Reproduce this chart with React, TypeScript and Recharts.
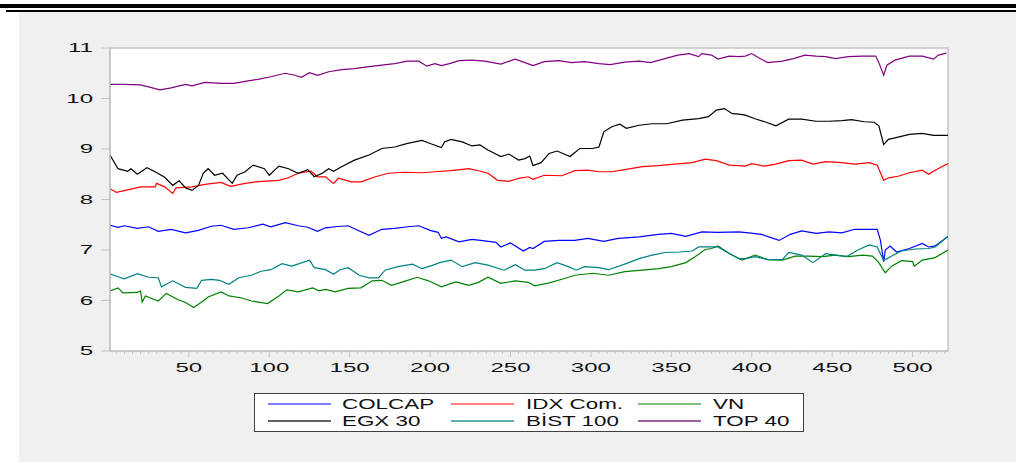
import React from "react";
import { LineChart, Line, XAxis, YAxis, ReferenceArea } from "recharts";

// EViews-style multi-series line graph, observations 1..522 on x.
const W = 1016;
const H = 462;
const FONT = '"Liberation Sans", Arial, sans-serif';
const FRAME = "#c4c4c4";

const X_DOMAIN = [1, 522];
const X_LABELS = [50, 100, 150, 200, 250, 300, 350, 400, 450, 500];
const X_MINOR_STEP = 5;
const Y_TICKS = [5, 6, 7, 8, 9, 10, 11];

const COLCAP = [
  [1, 7.49], [6, 7.45], [10, 7.48], [18, 7.43], [25, 7.46], [31, 7.37], [39, 7.41], [48, 7.34],
  [56, 7.39], [64, 7.47], [70, 7.49], [78, 7.41], [87, 7.44], [96, 7.51], [101, 7.46], [110, 7.54],
  [118, 7.48], [124, 7.45], [130, 7.37], [135, 7.44], [141, 7.46], [149, 7.48], [155, 7.39], [162, 7.29],
  [170, 7.41], [178, 7.43], [186, 7.46], [193, 7.48], [200, 7.39], [205, 7.35], [207, 7.23], [210, 7.26],
  [218, 7.16], [226, 7.21], [234, 7.18], [241, 7.15], [244, 7.06], [250, 7.14], [258, 6.98], [262, 7.05],
  [264, 7.03], [271, 7.17], [280, 7.19], [290, 7.19], [298, 7.23], [308, 7.17], [317, 7.23], [330, 7.26],
  [342, 7.31], [350, 7.33], [359, 7.27], [369, 7.36], [379, 7.35], [392, 7.36], [398, 7.34], [406, 7.31],
  [417, 7.19], [424, 7.31], [431, 7.38], [440, 7.33], [448, 7.36], [456, 7.34], [464, 7.41], [473, 7.41],
  [478, 7.41], [480, 7.19], [482, 6.77], [483, 7.0], [486, 7.08], [490, 6.96], [498, 7.03], [506, 7.13],
  [510, 7.06], [514, 7.08], [522, 7.27],
];

const IDX = [
  [1, 8.21], [5, 8.14], [12, 8.19], [20, 8.25], [29, 8.25], [30, 8.32], [35, 8.25], [40, 8.12],
  [42, 8.23], [52, 8.25], [60, 8.3], [70, 8.34], [76, 8.26], [85, 8.32], [95, 8.36], [106, 8.38],
  [112, 8.43], [118, 8.52], [126, 8.56], [130, 8.45], [135, 8.45], [140, 8.32], [143, 8.42], [151, 8.35],
  [157, 8.35], [166, 8.45], [174, 8.52], [184, 8.54], [195, 8.53], [203, 8.55], [213, 8.57], [224, 8.61],
  [230, 8.57], [236, 8.52], [242, 8.38], [249, 8.36], [255, 8.42], [261, 8.45], [264, 8.4], [271, 8.48],
  [282, 8.47], [290, 8.57], [298, 8.58], [305, 8.55], [313, 8.55], [321, 8.59], [332, 8.65], [342, 8.67],
  [352, 8.7], [363, 8.73], [371, 8.8], [378, 8.77], [386, 8.68], [392, 8.67], [396, 8.66], [400, 8.71],
  [408, 8.66], [415, 8.7], [423, 8.77], [431, 8.78], [438, 8.7], [446, 8.75], [456, 8.73], [464, 8.7],
  [473, 8.73], [478, 8.68], [482, 8.38], [485, 8.43], [491, 8.46], [498, 8.53], [506, 8.58], [510, 8.5],
  [514, 8.58], [522, 8.71],
];

const VN = [
  [1, 6.19], [6, 6.25], [9, 6.15], [18, 6.16], [20, 6.19], [21, 5.97], [23, 6.09], [31, 5.99],
  [36, 6.14], [43, 6.02], [48, 5.96], [53, 5.86], [58, 5.97], [62, 6.07], [70, 6.17], [75, 6.09],
  [83, 6.05], [89, 5.99], [99, 5.94], [106, 6.09], [111, 6.21], [118, 6.17], [127, 6.25], [131, 6.19],
  [135, 6.22], [141, 6.17], [149, 6.24], [157, 6.25], [164, 6.39], [170, 6.4], [176, 6.3], [184, 6.38],
  [192, 6.46], [199, 6.39], [207, 6.27], [216, 6.37], [224, 6.3], [230, 6.36], [236, 6.46], [244, 6.34],
  [253, 6.39], [261, 6.36], [265, 6.29], [274, 6.35], [282, 6.42], [290, 6.5], [301, 6.54], [311, 6.5],
  [321, 6.57], [332, 6.6], [342, 6.63], [350, 6.67], [359, 6.75], [365, 6.87], [371, 7.01], [375, 7.03],
  [379, 7.08], [386, 6.93], [392, 6.83], [394, 6.8], [402, 6.9], [410, 6.81], [419, 6.8], [427, 6.88],
  [435, 6.88], [444, 6.87], [452, 6.9], [460, 6.87], [469, 6.9], [475, 6.88], [479, 6.75], [483, 6.55],
  [487, 6.68], [493, 6.79], [500, 6.77], [501, 6.68], [506, 6.8], [514, 6.85], [522, 7.0],
];

const EGX30 = [
  [1, 8.88], [6, 8.61], [12, 8.56], [14, 8.61], [18, 8.5], [24, 8.63], [29, 8.55], [35, 8.44],
  [40, 8.28], [44, 8.37], [48, 8.23], [52, 8.18], [56, 8.28], [59, 8.52], [62, 8.61], [66, 8.48],
  [71, 8.52], [77, 8.32], [80, 8.48], [85, 8.55], [90, 8.68], [97, 8.61], [100, 8.48], [106, 8.66],
  [112, 8.61], [118, 8.52], [124, 8.59], [128, 8.45], [133, 8.52], [137, 8.61], [140, 8.56], [145, 8.65],
  [153, 8.78], [162, 8.88], [170, 9.01], [178, 9.04], [186, 9.11], [195, 9.17], [200, 9.11], [207, 9.03],
  [209, 9.14], [213, 9.19], [220, 9.14], [226, 9.06], [231, 9.08], [236, 8.98], [244, 8.85], [249, 8.9],
  [255, 8.78], [259, 8.81], [262, 8.86], [264, 8.67], [269, 8.73], [274, 8.91], [279, 8.96], [287, 8.85],
  [293, 9.01], [301, 9.01], [305, 9.04], [308, 9.34], [313, 9.44], [318, 9.49], [322, 9.41], [330, 9.47],
  [338, 9.5], [347, 9.5], [357, 9.57], [367, 9.6], [373, 9.64], [378, 9.77], [383, 9.8], [388, 9.7],
  [392, 9.69], [396, 9.67], [402, 9.6], [409, 9.53], [415, 9.46], [423, 9.59], [431, 9.59], [440, 9.55],
  [448, 9.55], [456, 9.56], [462, 9.58], [470, 9.54], [476, 9.53], [479, 9.46], [482, 9.09], [485, 9.19],
  [489, 9.22], [498, 9.29], [506, 9.31], [513, 9.27], [522, 9.27],
];

const BIST100 = [
  [1, 6.53], [6, 6.47], [10, 6.43], [18, 6.53], [25, 6.46], [31, 6.45], [33, 6.27], [40, 6.39],
  [48, 6.26], [55, 6.24], [58, 6.4], [64, 6.42], [69, 6.4], [75, 6.32], [81, 6.45], [89, 6.5],
  [95, 6.58], [101, 6.61], [108, 6.73], [114, 6.68], [125, 6.8], [128, 6.65], [135, 6.61], [140, 6.52],
  [144, 6.61], [149, 6.65], [156, 6.5], [162, 6.45], [168, 6.45], [172, 6.6], [180, 6.67], [189, 6.72],
  [195, 6.63], [201, 6.69], [206, 6.75], [213, 6.8], [220, 6.67], [228, 6.75], [236, 6.7], [246, 6.6],
  [253, 6.71], [259, 6.6], [265, 6.6], [271, 6.63], [279, 6.75], [286, 6.67], [291, 6.6], [296, 6.67],
  [305, 6.65], [311, 6.61], [321, 6.72], [330, 6.83], [338, 6.9], [346, 6.95], [355, 6.96], [363, 6.98],
  [367, 7.06], [372, 7.06], [379, 7.06], [386, 6.93], [392, 6.83], [396, 6.83], [402, 6.87], [410, 6.81],
  [419, 6.81], [423, 6.95], [431, 6.9], [438, 6.75], [446, 6.93], [452, 6.9], [459, 6.87], [466, 7.0],
  [473, 7.1], [478, 7.06], [482, 6.79], [487, 6.88], [493, 6.98], [502, 7.02], [510, 7.03], [514, 7.06],
  [522, 7.27],
];

const TOP40 = [
  [1, 10.28], [10, 10.28], [20, 10.27], [25, 10.23], [32, 10.17], [39, 10.21], [48, 10.28], [52, 10.25],
  [60, 10.32], [70, 10.3], [78, 10.3], [85, 10.34], [93, 10.38], [101, 10.43], [110, 10.5], [116, 10.46],
  [120, 10.42], [125, 10.51], [130, 10.46], [137, 10.53], [145, 10.57], [153, 10.59], [162, 10.63], [170, 10.66],
  [178, 10.69], [186, 10.74], [193, 10.74], [198, 10.64], [203, 10.69], [207, 10.65], [212, 10.69], [218, 10.75],
  [226, 10.76], [234, 10.74], [244, 10.68], [253, 10.78], [259, 10.71], [264, 10.65], [271, 10.73], [280, 10.75],
  [288, 10.71], [296, 10.73], [305, 10.69], [312, 10.67], [321, 10.72], [330, 10.74], [337, 10.71], [346, 10.79],
  [354, 10.86], [361, 10.89], [367, 10.83], [369, 10.89], [375, 10.86], [379, 10.78], [386, 10.84], [392, 10.83],
  [396, 10.84], [400, 10.89], [404, 10.81], [410, 10.71], [419, 10.74], [426, 10.79], [433, 10.86], [440, 10.84],
  [446, 10.83], [452, 10.79], [460, 10.83], [469, 10.84], [477, 10.84], [479, 10.71], [482, 10.46], [484, 10.66],
  [489, 10.76], [498, 10.84], [506, 10.84], [513, 10.78], [516, 10.86], [521, 10.9],
];

// legend order is row-wise, like EViews
const SERIES = [
  { name: "COLCAP", points: COLCAP, color: "#0000ff", key: "#7f7fff" },
  { name: "IDX Com.", points: IDX, color: "#ff0000", key: "#ff7f7f" },
  { name: "VN", points: VN, color: "#008000", key: "#7fbf7f" },
  { name: "EGX 30", points: EGX30, color: "#000000", key: "#606060" },
  { name: "BİST 100", points: BIST100, color: "#008080", key: "#5fafaf" },
  { name: "TOP 40", points: TOP40, color: "#800080", key: "#a060a0" },
];

const X_TICKS = Array.from(
  { length: Math.floor(X_DOMAIN[1] / X_MINOR_STEP) },
  (_, k) => (k + 1) * X_MINOR_STEP
);

function XTick({ x, y, payload }: any) {
  const v = payload.value;
  const major = X_LABELS.includes(v);
  return (
    <g>
      <line x1={x} x2={x} y1={y} y2={y + (major ? 6 : 3)} stroke={FRAME} />
      {major && (
        <g transform={`translate(${x},${y + 17}) scale(1.85,1)`}>
          <text textAnchor="middle" dominantBaseline="central" fontSize={13} fontFamily={FONT} fill="#111">
            {v}
          </text>
        </g>
      )}
    </g>
  );
}

function YTick({ x, y, payload }: any) {
  return (
    <g>
      <line x1={x - 9} x2={x} y1={y} y2={y} stroke={FRAME} />
      <g transform={`translate(${x - 17},${y}) scale(1.85,1)`}>
        <text textAnchor="end" dominantBaseline="central" fontSize={13} fontFamily={FONT} fill="#111">
          {payload.value}
        </text>
      </g>
    </g>
  );
}

const KEY_LINE_X = [268, 451, 638];
const KEY_TEXT_X = [342, 526, 713];
const KEY_ROW_Y = [404, 421];
const BOX = { left: 254, top: 393, width: 550, height: 39 };

function KeyBox() {
  return (
    <div
      style={{
        position: "absolute",
        left: BOX.left,
        top: BOX.top,
        width: BOX.width,
        height: BOX.height,
        boxSizing: "border-box",
        background: "#fff",
        border: "1px solid #404040",
      }}
    >
      {SERIES.map((s, i) => {
        const col = i % 3;
        const row = Math.floor(i / 3);
        const cy = KEY_ROW_Y[row] - BOX.top - 1;
        return (
          <React.Fragment key={s.name}>
            <div
              style={{
                position: "absolute",
                left: KEY_LINE_X[col] - BOX.left - 1,
                top: cy - 1,
                width: 63,
                height: 1.5,
                background: s.key,
              }}
            />
            <div
              style={{
                position: "absolute",
                left: KEY_TEXT_X[col] - BOX.left - 1,
                top: cy - 9,
                height: 18,
                lineHeight: "18px",
                fontSize: 14,
                fontFamily: FONT,
                color: "#111",
                whiteSpace: "nowrap",
                transform: "scaleX(1.6)",
                transformOrigin: "left center",
              }}
            >
              {s.name}
            </div>
          </React.Fragment>
        );
      })}
    </div>
  );
}

export default function App() {
  return (
    <div style={{ position: "absolute", left: 0, top: 0, width: W, height: H, background: "#fff", overflow: "hidden" }}>
      <div style={{ position: "absolute", left: 0, top: 4, width: W, height: 4, background: "#000" }} />
      <div style={{ position: "absolute", left: 6, top: 10, width: W - 6, height: 2, background: "#000" }} />
      <div style={{ position: "absolute", left: 19, top: 12, width: W - 19, height: H - 12, background: "#f0f0f0" }} />
      <div style={{ position: "absolute", left: 0, top: 0 }}>
        <LineChart width={W} height={H} margin={{ top: 48, right: 68, bottom: 81, left: 0 }}>
          <XAxis
            dataKey="x"
            type="number"
            domain={X_DOMAIN}
            allowDataOverflow
            ticks={X_TICKS}
            interval={0}
            tick={<XTick />}
            tickLine={false}
            tickSize={0}
            tickMargin={0}
            axisLine={{ stroke: FRAME, strokeWidth: 1.5 }}
            height={30}
          />
          <YAxis
            type="number"
            domain={[5, 11]}
            ticks={Y_TICKS}
            interval={0}
            tick={<YTick />}
            tickLine={false}
            tickSize={0}
            tickMargin={0}
            axisLine={{ stroke: FRAME, strokeWidth: 1.5 }}
            width={110}
          />
          <ReferenceArea x1={1} x2={522} y1={5} y2={11} fill="#fff" fillOpacity={1} stroke={FRAME} strokeWidth={1.5} />
          {SERIES.map((s) => (
            <Line
              key={s.name}
              data={s.points.map(([x, v]) => ({ x, v }))}
              dataKey="v"
              name={s.name}
              type="linear"
              stroke={s.color}
              strokeWidth={1.2}
              dot={false}
              activeDot={false}
              isAnimationActive={false}
            />
          ))}
        </LineChart>
      </div>
      <KeyBox />
    </div>
  );
}
